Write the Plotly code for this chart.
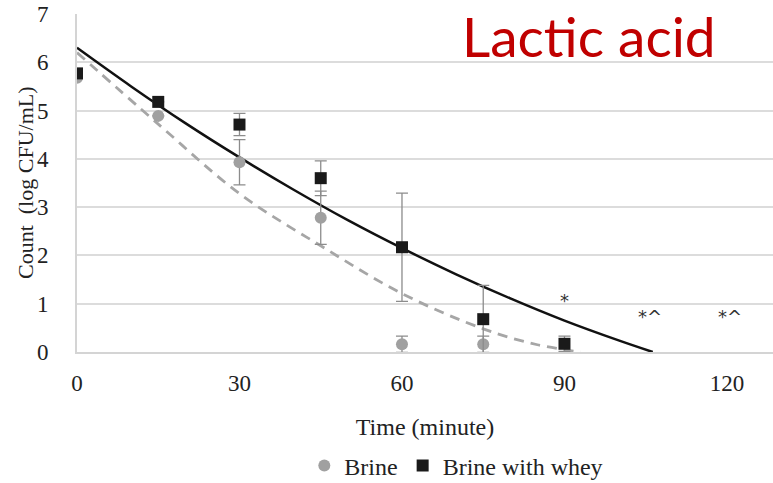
import plotly.graph_objects as go

# Data
time_min = [0, 15, 30, 45, 60, 75]
brine = [5.68, 4.89, 3.93, 2.78, 0.16, 0.16]
brine_err = [0.0, 0.0, 0.47, 0.55, 0.17, 0.17]

time_whey = [0, 15, 30, 45, 60, 75, 90]
whey = [5.77, 5.18, 4.71, 3.60, 2.17, 0.68, 0.17]
whey_err = [0.0, 0.0, 0.23, 0.36, 1.12, 0.70, 0.16]

# Trendlines
trend_brine_t = [0, 15, 30, 45, 60, 75, 85, 93]
trend_brine_v = [6.2, 4.72, 3.28, 2.2, 1.21, 0.48, 0.15, 0.0]
trend_whey_t = [0, 10, 20, 30, 40, 50, 60, 70, 80, 90, 100, 106.3]
trend_whey_v = [6.30, 5.50, 4.74, 4.03, 3.36, 2.73, 2.15, 1.61, 1.11, 0.65, 0.24, 0.0]

marks_t = [90, 105.8, 120.6]
marks_v = [1.07, 0.74, 0.74]
marks_txt = ["*", "*^", "*^"]

x_ticks = [0, 30, 60, 90, 120]
y_ticks = [0, 1, 2, 3, 4, 5, 6, 7]

serif = "Liberation Serif, Times New Roman, serif"
txt = "#222222"

fig = go.Figure()

fig.add_trace(go.Scatter(
    x=trend_brine_t, y=trend_brine_v, mode="lines", line_shape="spline",
    line=dict(color="#a6a6a6", width=2.8, dash="10px,7px"), showlegend=False, hoverinfo="skip"))
fig.add_trace(go.Scatter(
    x=trend_whey_t, y=trend_whey_v, mode="lines", line_shape="spline",
    line=dict(color="#111111", width=2.5), showlegend=False, hoverinfo="skip"))

fig.add_trace(go.Scatter(
    x=time_min, y=brine, mode="markers", name="Brine",
    marker=dict(symbol="circle", size=12, color="#a0a0a0"),
    error_y=dict(type="data", array=brine_err, visible=True, color="#8c8c8c", thickness=1.3, width=6)))
fig.add_trace(go.Scatter(
    x=time_whey, y=whey, mode="markers", name="Brine with whey",
    marker=dict(symbol="square", size=12, color="#1a1a1a"),
    error_y=dict(type="data", array=whey_err, visible=True, color="#8c8c8c", thickness=1.3, width=6)))

for t, v, s in zip(marks_t, marks_v, marks_txt):
    fig.add_annotation(x=t, y=v, text=s, showarrow=False,
                       font=dict(family="DejaVu Sans", size=18, color="#333333"))

fig.add_annotation(xref="paper", yref="paper", x=0.736, y=(351.7 - 36) / 338, text="Lactic acid",
                   showarrow=False, xanchor="center", yanchor="middle",
                   font=dict(family="Lato, Carlito, Calibri, sans-serif", size=55, color="#c00000"))

fig.add_annotation(xref="paper", yref="paper", x=(25 - 77) / 696, y=0.5, text="Count  (log CFU/mL)",
                   showarrow=False, textangle=-90, xanchor="center", yanchor="middle",
                   font=dict(family=serif, size=22, color=txt))

fig.update_layout(
    width=773, height=483,
    margin=dict(l=77, r=0, t=14, b=131, autoexpand=False),
    paper_bgcolor="white", plot_bgcolor="white",
    font=dict(family=serif, size=23, color=txt),
    showlegend=True,
    legend=dict(orientation="h", x=0.545, xanchor="center", y=-0.337, yanchor="middle",
                font=dict(family=serif, size=24, color=txt), itemwidth=30,
                bgcolor="rgba(0,0,0,0)"),
)

fig.update_xaxes(
    range=[0, 128.5], tickvals=x_ticks, showgrid=False, zeroline=False,
    showline=True, linecolor="#d4d4d4", linewidth=2, automargin=False,
    ticks="", ticklabelstandoff=9,
    tickfont=dict(family=serif, size=23, color=txt),
    title=dict(text="Time (minute)", standoff=24, font=dict(family=serif, size=24, color=txt)))
fig.update_yaxes(
    range=[0, 7], tickvals=y_ticks, showgrid=True, gridcolor="#dcdcdc", gridwidth=1.5,
    zeroline=False, showline=True, linecolor="#d4d4d4", linewidth=2, automargin=False,
    ticks="", ticklabelstandoff=22,
    tickfont=dict(family=serif, size=23, color=txt))

fig.write_html("out.html")
